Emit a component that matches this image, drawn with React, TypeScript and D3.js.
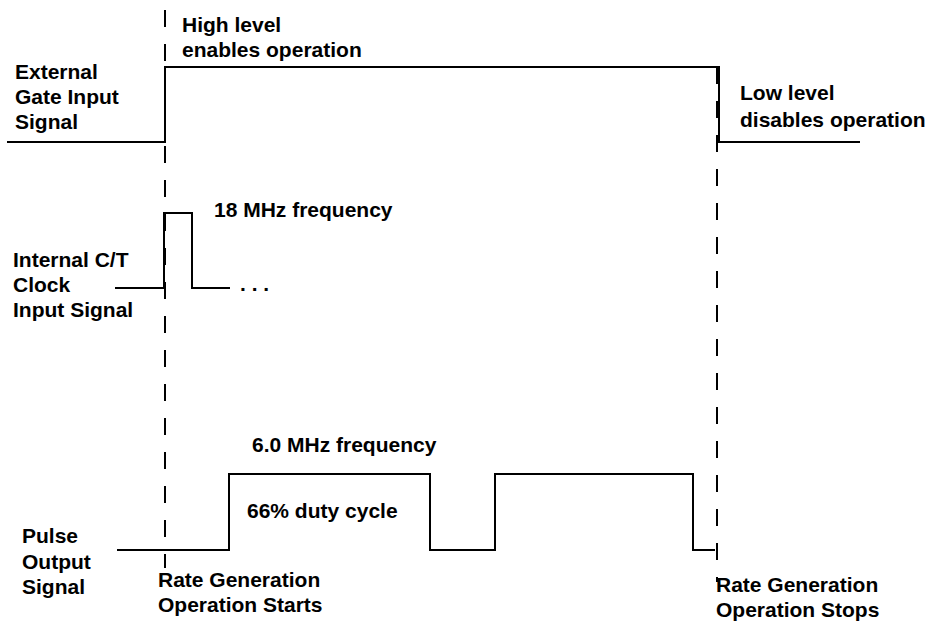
import React, { useEffect, useRef } from 'react';
import * as d3 from 'd3';

// step signals: transition times (x units) and logic level after each time
const gateTimes = [7, 165, 719, 860];
const gateLevels = [0, 1, 0, 0];

const clockTimes = [115, 164, 192, 230];
const clockLevels = [0, 1, 0, 0];

const pulseTimes = [117, 229, 430, 495, 693, 715];
const pulseLevels = [0, 1, 0, 1, 0, 0];

// start / stop markers
const markerTimes = [165, 717];
const markerTops = [10, 67];
const markerBottoms = [568, 582];

// labels
const gateLabel = ['External', 'Gate Input', 'Signal'];
const clockLabel = ['Internal C/T', 'Clock', 'Input Signal'];
const pulseLabel = ['Pulse', 'Output', 'Signal'];
const highNote = ['High level', 'enables operation'];
const lowNote = ['Low level', 'disables operation'];
const startNote = ['Rate Generation', 'Operation Starts'];
const stopNote = ['Rate Generation', 'Operation Stops'];

const W = 928;
const H = 621;

const App: React.FC = () => {
  const ref = useRef<SVGSVGElement>(null);

  useEffect(() => {
    const svg = d3.select(ref.current);
    svg.selectAll('*').remove();

    const x = d3.scaleLinear().domain([0, W]).range([0, W]);

    // each signal gets its own low/high band
    const yGate = d3.scaleLinear().domain([0, 1]).range([142, 67]);
    const yClock = d3.scaleLinear().domain([0, 1]).range([288, 213]);
    const yPulse = d3.scaleLinear().domain([0, 1]).range([550, 474]);

    const drawSignal = (times: number[], levels: number[], y: d3.ScaleLinear<number, number>) => {
      const pts = times.map((t, i) => [t, levels[i]] as [number, number]);
      const line = d3.line<[number, number]>()
        .x((d) => x(d[0]))
        .y((d) => y(d[1]))
        .curve(d3.curveStepAfter);
      svg.append('path')
        .attr('d', line(pts))
        .attr('fill', 'none')
        .attr('stroke', '#000')
        .attr('stroke-width', 2);
    };

    // dashed markers
    svg.selectAll('line.marker')
      .data(markerTimes)
      .enter().append('line')
      .attr('class', 'marker')
      .attr('x1', (d) => x(d))
      .attr('x2', (d) => x(d))
      .attr('y1', (d, i) => markerTops[i])
      .attr('y2', (d, i) => markerBottoms[i])
      .attr('stroke', '#000')
      .attr('stroke-width', 2)
      .attr('stroke-dasharray', '17 17');

    drawSignal(gateTimes, gateLevels, yGate);
    drawSignal(clockTimes, clockLevels, yClock);
    drawSignal(pulseTimes, pulseLevels, yPulse);

    const block = (lines: string[], px: number, py: number, step = 25) => {
      const t = svg.append('text')
        .attr('font-family', '"Liberation Sans", Arial, Helvetica, sans-serif')
        .attr('font-weight', 'bold')
        .attr('font-size', 21)
        .attr('fill', '#000');
      lines.forEach((s, i) => {
        t.append('tspan').attr('x', px).attr('y', py + i * step).text(s);
      });
    };

    block(highNote, 182, 32, 24.5);
    block(gateLabel, 15, 79);
    block(lowNote, 740, 100, 26.5);
    block(['18 MHz frequency'], 214, 217);
    block(clockLabel, 13, 267);
    block(['. . .'], 240, 291);
    block(['6.0 MHz frequency'], 252, 452);
    block(['66% duty cycle'], 247, 518);
    block(pulseLabel, 22, 543, 25.5);
    block(startNote, 158, 587);
    block(stopNote, 716, 592);
  }, []);

  return (
    <svg
      ref={ref}
      width={W}
      height={H}
      style={{ position: 'absolute', left: 0, top: 0, background: '#fff' }}
    />
  );
};

export default App;
